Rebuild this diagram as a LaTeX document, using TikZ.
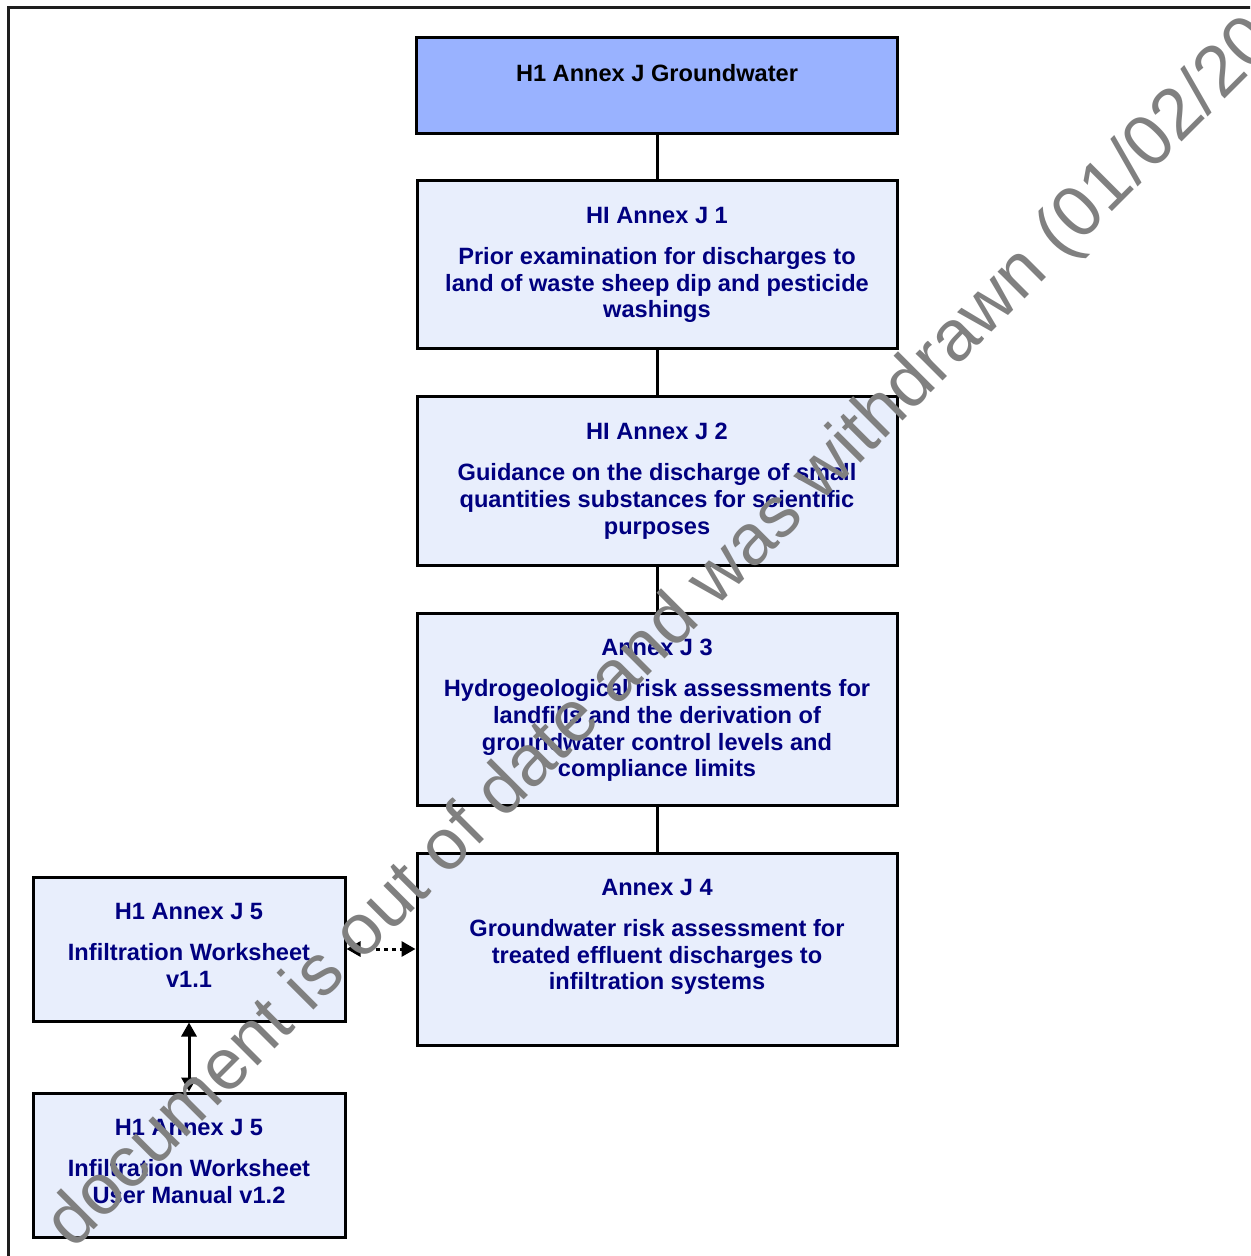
\documentclass[tikz,border=0pt]{standalone}
\usepackage{fontspec}
\setmainfont{Liberation Sans}
\usetikzlibrary{arrows.meta}

\definecolor{navytext}{RGB}{0,0,128}
\definecolor{boxfill}{RGB}{232,238,252}
\definecolor{headfill}{RGB}{153,178,255}
\definecolor{wmgray}{RGB}{128,128,128}

\tikzset{
  annexbox/.style={draw=black, line width=1.5pt, fill=boxfill, inner sep=0pt, minimum width=240pt},
  annextext/.style={anchor=north, align=center, inner sep=0pt, text=navytext,
    font=\bfseries\fontsize{11.8}{13.4}\selectfont},
  link/.style={draw=black, line width=1.5pt},
  dbltip/.style={{Triangle[length=7pt,width=7.5pt]}-{Triangle[length=7pt,width=7.5pt]}},
}

\begin{document}
\begin{tikzpicture}[x=0.5pt,y=0.5pt,yscale=-1,xscale=1]
\useasboundingbox (0,0) rectangle (1250,1256);
\clip (0,0) rectangle (1250,1256);
%Shape: Rectangle [frame]
\draw [line width=1.5pt, color={rgb,255:red,30;green,30;blue,30}] (8,8) rectangle (1280,1290);

%Shape: Rectangle [head]
\node [annexbox, fill=headfill, minimum width=240.5pt, minimum height=48pt] (gw) at (657,86) {};
%Shape: Rectangle [J1]
\node [annexbox, minimum height=84pt] (j1) at (657,265) {};
%Shape: Rectangle [J2]
\node [annexbox, minimum height=84pt] (j2) at (657,481) {};
%Shape: Rectangle [J3]
\node [annexbox, minimum height=96pt] (j3) at (657,709) {};
%Shape: Rectangle [J4]
\node [annexbox, minimum height=96pt] (j4) at (657,949) {};
%Shape: Rectangle [J5]
\node [annexbox, minimum width=156pt, minimum height=72pt] (j5) at (189,949) {};
%Shape: Rectangle [J5 manual]
\node [annexbox, minimum width=156pt, minimum height=72pt] (j5m) at (189,1165) {};

%Straight Lines
\draw [link] (gw.south) -- (j1.north);
\draw [link] (j1.south) -- (j2.north);
\draw [link] (j2.south) -- (j3.north);
\draw [link] (j3.south) -- (j4.north);
%Straight Lines [arrows]
\draw [link, dbltip, dash pattern=on 2pt off 2pt] (j5.east) -- (j4.west);
\draw [link, dbltip] (j5.south) -- (j5m.north);

% Text Node
\node [annextext, text=black] (gwt) at (657,64) {H1 Annex J Groundwater};
% Text Node
\node [annextext] (j1t) at (657,207) {HI Annex J 1\\[6.9pt]Prior examination for discharges to\\land of waste sheep dip and pesticide\\washings};
% Text Node
\node [annextext] (j2t) at (657,423) {HI Annex J 2\\[6.9pt]Guidance on the discharge of small\\quantities substances for scientific\\purposes};
% Text Node
\node [annextext] (j3t) at (657,639) {Annex J 3\\[6.9pt]Hydrogeological risk assessments for\\landfills and the derivation of\\groundwater control levels and\\compliance limits};
% Text Node
\node [annextext] (j4t) at (657,879) {Annex J 4\\[6.9pt]Groundwater risk assessment for\\treated effluent discharges to\\infiltration systems};
% Text Node
\node [annextext] (j5t) at (189,903) {H1 Annex J 5\\[6.9pt]Infiltration Worksheet\\v1.1};
% Text Node
\node [annextext] (j5mt) at (189,1119) {H1 Annex J 5\\[6.9pt]Infiltration Worksheet\\User Manual v1.2};

% Text Node [watermark]
\node [anchor=base west, rotate=45, inner sep=0pt, text=wmgray, font=\fontsize{36}{40}\selectfont] (wm) at (73,1251) {document is out of date and was withdrawn (01/02/20};
\end{tikzpicture}
\end{document}
